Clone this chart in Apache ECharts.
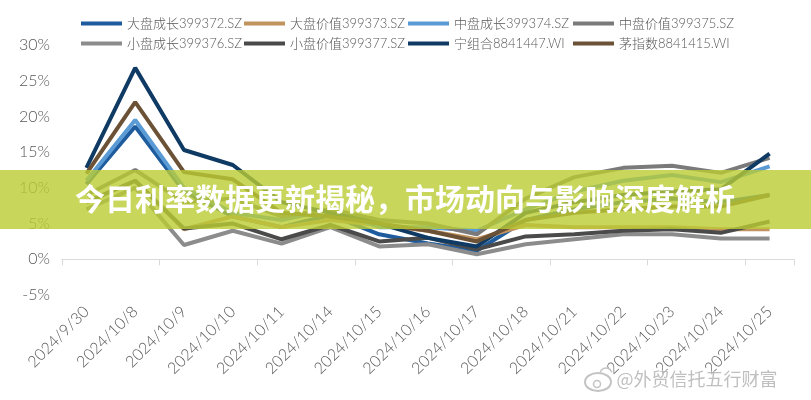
<!DOCTYPE html>
<html>
<head>
<meta charset="utf-8">
<script src="https://cdn.jsdelivr.net/npm/echarts@6/dist/echarts.min.js"></script>
<style>html,body{margin:0;padding:0;background:#fff;}#c{width:811px;height:400px;}</style>
</head>
<body>
<div id="c"></div>
<script>
const categories = ['2024/9/30','2024/10/8','2024/10/9','2024/10/10','2024/10/11','2024/10/14','2024/10/15','2024/10/16','2024/10/17','2024/10/18','2024/10/21','2024/10/22','2024/10/23','2024/10/24','2024/10/25'];
const seriesNames = ['大盘成长399372.SZ','大盘价值399373.SZ','中盘成长399374.SZ','中盘价值399375.SZ','小盘成长399376.SZ','小盘价值399377.SZ','宁组合8841447.WI','茅指数8841415.WI'];
const largeGrowth = [10.5, 18.6, 9.5, 6.0, 4.5, 6.2, 3.5, 2.2, 1.2, 5.5, 7.0, 8.0, 8.5, 8.0, 9.0];
const largeValue  = [8.0, 11.0, 4.2, 6.0, 4.5, 5.5, 4.8, 4.0, 2.8, 4.8, 4.5, 4.5, 4.5, 4.2, 4.2];
const midGrowth   = [11.0, 19.5, 10.0, 6.5, 5.5, 7.0, 4.5, 4.5, 4.0, 7.0, 9.5, 11.0, 11.8, 10.8, 13.0];
const midValue    = [9.0, 12.5, 8.0, 8.5, 6.0, 7.0, 5.5, 5.0, 3.5, 8.5, 11.5, 12.8, 13.1, 12.1, 14.2];
const smallGrowth = [7.0, 10.0, 2.0, 4.0, 2.2, 4.5, 1.8, 2.1, 0.7, 2.1, 2.8, 3.5, 3.5, 2.9, 2.9];
const smallValue  = [8.0, 11.0, 4.3, 5.0, 2.8, 4.8, 2.5, 3.0, 1.4, 3.2, 3.5, 4.0, 4.2, 3.7, 5.3];
const ningCombo   = [12.8, 26.8, 15.3, 13.2, 8.0, 6.5, 5.0, 3.0, 1.8, 6.5, 8.0, 9.0, 9.5, 9.8, 14.8];
const maoIndex    = [12.0, 22.0, 12.2, 11.2, 6.5, 6.0, 5.0, 4.0, 2.5, 5.5, 6.5, 7.0, 7.4, 7.4, 9.0];
const yTicks = {min: -5, max: 30, interval: 5};
const bannerText = '今日利率数据更新揭秘，市场动向与影响深度解析';
const watermarkText = '@外贸信托五行财富';

const allData = [largeGrowth, largeValue, midGrowth, midValue, smallGrowth, smallValue, ningCombo, maoIndex];
const colors = ['#1f5c9e','#c0935f','#5b9bd5','#7a7a7a','#8c8c8c','#4a4a4a','#0f3a64','#6b5236'];
const legendPos = [[81,17],[244,17],[408,17],[573,17],[81,37],[244,37],[408,37],[573,37]];
const FONT = 'Lato, "Noto Sans CJK SC", sans-serif';

const chart = echarts.init(document.getElementById('c'), null, {renderer: 'canvas'});
const option = {
  animation: false,
  backgroundColor: '#fff',
  legend: seriesNames.map((n, i) => ({
    data: [n], left: legendPos[i][0], top: legendPos[i][1],
    icon: 'rect', itemWidth: 41, itemHeight: 4, padding: 0,
    textStyle: {fontFamily: FONT, fontSize: 13, color: '#595959', fontWeight: 300}
  })),
  grid: {left: 62, right: 17, top: 45, bottom: 105, containLabel: false},
  xAxis: [{
    type: 'category', data: categories, boundaryGap: true,
    axisLine: {onZero: true, lineStyle: {color: '#d9d9d9', width: 1}},
    axisTick: {show: true, length: 6, lineStyle: {color: '#d9d9d9'}},
    axisLabel: {show: false}, splitLine: {show: false}
  },{
    type: 'category', data: categories, boundaryGap: true, position: 'bottom',
    axisLine: {show: false, onZero: false}, axisTick: {show: false},
    axisLabel: {rotate: 45, margin: 14, fontFamily: FONT, fontSize: 16, color: '#595959', fontWeight: 300, interval: 0}
  }],
  yAxis: {
    type: 'value', min: yTicks.min, max: yTicks.max, interval: yTicks.interval,
    axisLine: {show: false}, axisTick: {show: false}, splitLine: {show: false},
    axisLabel: {formatter: '{value}%', fontFamily: FONT, fontSize: 16, color: '#595959', fontWeight: 300, margin: 12}
  },
  series: seriesNames.map((n, i) => ({
    name: n, type: 'line', data: allData[i], xAxisIndex: 0,
    symbol: 'none', lineStyle: {width: 4, color: colors[i]}, itemStyle: {color: colors[i]}
  })),
  graphic: [
    {type: 'rect', left: 0, top: 170, shape: {width: 811, height: 59}, style: {fill: 'rgba(186,204,51,0.8)'}, z: 100},
    {type: 'text', left: 75, top: 184, style: {text: bannerText, fontFamily: '"Noto Sans CJK SC", sans-serif', fontWeight: 'bold', fontSize: 30, fill: '#fff', shadowColor: 'rgba(0,0,0,0.15)', shadowBlur: 2}, z: 101},
    {type: 'text', left: 616, top: 370, style: {text: watermarkText, fontFamily: '"Noto Sans CJK SC", sans-serif', fontSize: 18, fill: 'rgba(170,170,170,0.75)', stroke: 'rgba(255,255,255,0.6)', lineWidth: 1}, z: 101},
    {type: 'ellipse', shape: {cx: 598, cy: 382, rx: 13, ry: 9}, style: {fill: 'none', stroke: 'rgba(170,170,170,0.7)', lineWidth: 2}, z: 101},
    {type: 'circle', shape: {cx: 597, cy: 384, r: 3.5}, style: {fill: 'none', stroke: 'rgba(170,170,170,0.7)', lineWidth: 1.5}, z: 101},
    {type: 'arc', shape: {cx: 606, cy: 374, r: 6, startAngle: -Math.PI*0.9, endAngle: -Math.PI*0.1}, style: {fill: 'none', stroke: 'rgba(170,170,170,0.7)', lineWidth: 1.5}, z: 101}
  ]
};
chart.setOption(option);
</script>
</body>
</html>
